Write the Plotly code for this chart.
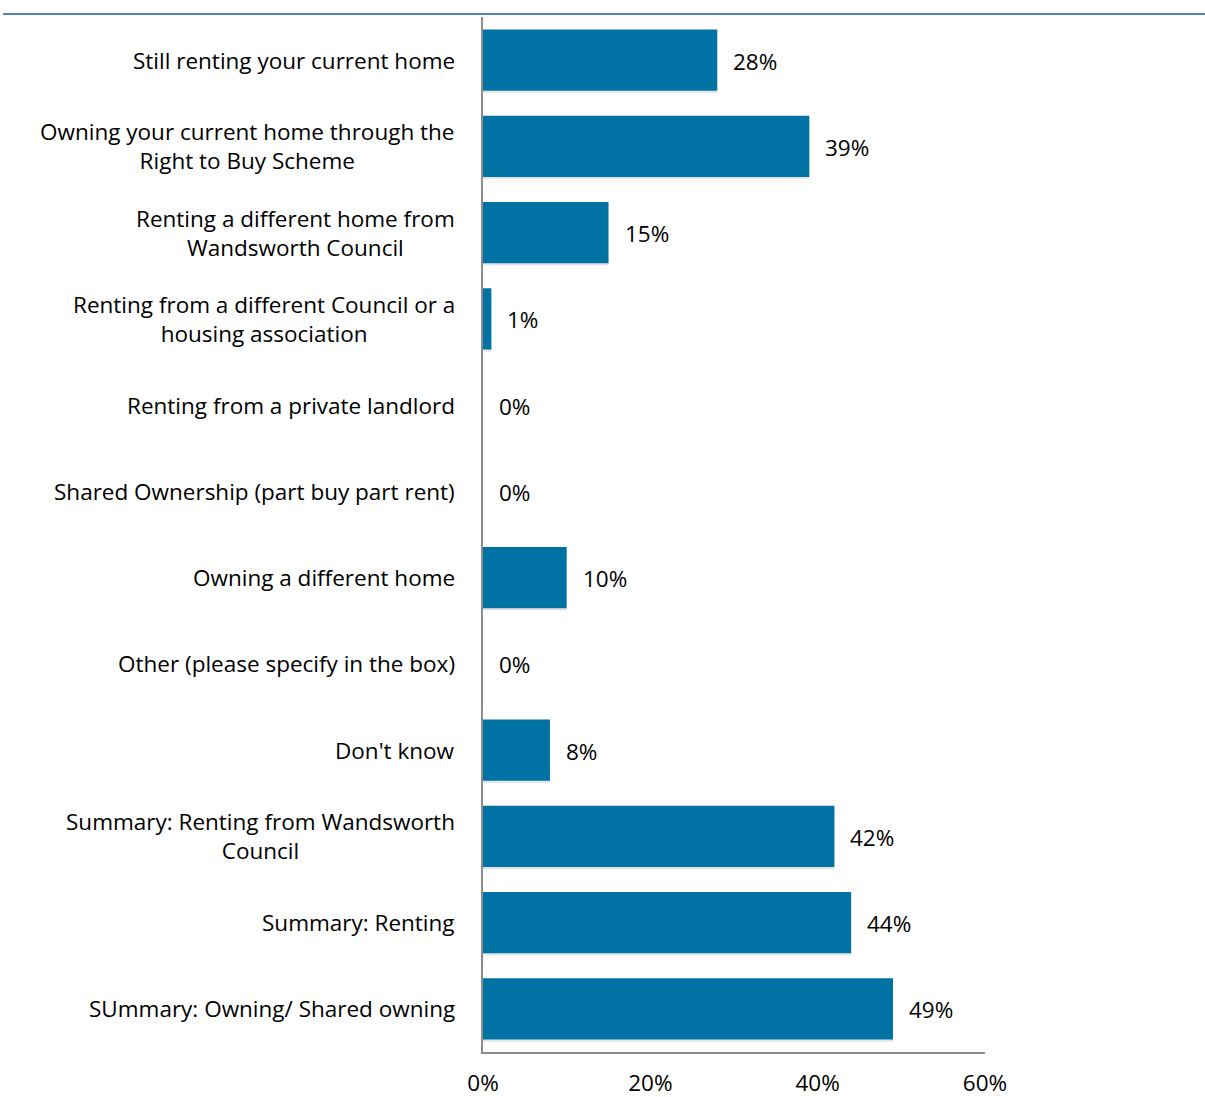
import plotly.graph_objects as go

categories = [
    "Still renting your current home",
    "Owning your current home through the<br>Right to Buy Scheme",
    "Renting a different home from<br>Wandsworth Council",
    "Renting from a different Council or a<br>housing association",
    "Renting from a private landlord",
    "Shared Ownership (part buy part rent)",
    "Owning a different home",
    "Other (please specify in the box)",
    "Don't know",
    "Summary: Renting from Wandsworth<br>Council",
    "Summary: Renting",
    "SUmmary: Owning/ Shared owning",
]
values = [28, 39, 15, 1, 0, 0, 10, 0, 8, 42, 44, 49]
x_ticks = [0, 20, 40, 60]
x_tick_labels = ["0%", "20%", "40%", "60%"]

FONT = "'Open Sans', sans-serif"
FS = 22.5
BAR = "#0073A4"
AXIS = "#8C8C8C"

fig = go.Figure()

# soft drop shadow under each bar
fig.add_trace(go.Bar(
    y=categories, x=values, orientation="h",
    marker=dict(color="rgba(0,0,0,0.10)", line=dict(width=0)),
    width=0.71, offset=-0.33, hoverinfo="skip", showlegend=False,
))
fig.add_trace(go.Bar(
    y=categories, x=values, orientation="h",
    marker=dict(color=BAR, line=dict(width=0)),
    width=0.71, offset=-0.355, showlegend=False,
))

# value labels just past the end of each bar
for c, v in zip(categories, values):
    fig.add_annotation(
        x=v, y=c, text=f"{v}%", showarrow=False,
        xanchor="left", xshift=14, yshift=-1,
        font=dict(family=FONT, size=FS, color="#000000"),
    )

# category labels, centre-aligned when wrapped onto two lines
for c in categories:
    fig.add_annotation(
        xref="paper", x=-26 / 502, y=c, text=c, showarrow=False,
        xanchor="right", yanchor="middle", align="center",
        font=dict(family=FONT, size=FS, color="#000000"),
    )

fig.update_layout(
    width=1205, height=1097,
    margin=dict(l=483, r=220, t=17, b=45, autoexpand=False),
    paper_bgcolor="white", plot_bgcolor="white",
    barmode="overlay",
    font=dict(family=FONT, size=FS, color="#000000"),
    xaxis=dict(
        range=[0, 60], tickvals=x_ticks, ticktext=x_tick_labels,
        showgrid=False, zeroline=False, showline=True, linecolor=AXIS,
        linewidth=1.5, ticks="", ticklabelstandoff=10, automargin=False,
        tickfont=dict(family=FONT, size=FS),
    ),
    yaxis=dict(
        categoryorder="array", categoryarray=categories,
        autorange="reversed", showgrid=False, zeroline=False,
        showline=True, linecolor=AXIS, linewidth=1.5, ticks="",
        showticklabels=False, automargin=False,
    ),
)

# blue rule across the top of the page
fig.add_shape(
    type="line", xref="paper", yref="paper",
    x0=(3 - 483) / 502, x1=(1205 - 483) / 502,
    y0=1 + 3 / 1035, y1=1 + 3 / 1035,
    line=dict(color="#4F81BD", width=2),
)

fig.write_html("out.html")
